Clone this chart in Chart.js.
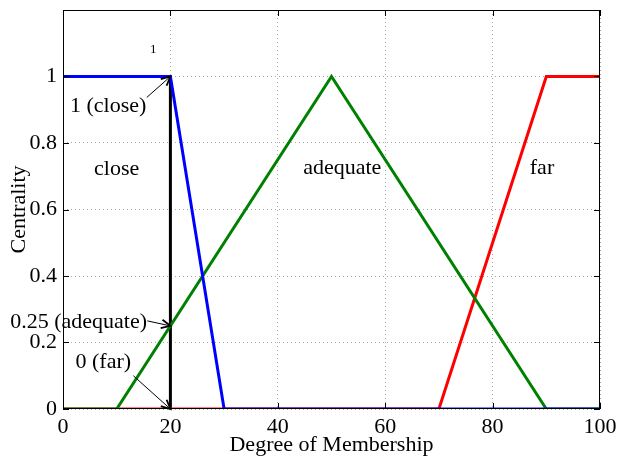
<!DOCTYPE html>
<html>
<head>
<meta charset="utf-8">
<script src="https://cdn.jsdelivr.net/npm/chart.js@4"></script>
<style>
  html, body { margin: 0; padding: 0; background: #fff; }
  #wrap { width: 617px; height: 458px; }
</style>
</head>
<body>
<div id="wrap"><canvas id="chart"></canvas></div>
<script>
// membership functions, x = distance, y = centrality
const closeX = [0, 20, 30, 100];
const closeY = [1, 1, 0, 0];
const adequateX = [0, 10, 50, 90, 100];
const adequateY = [0, 0, 1, 0, 0];
const farX = [0, 70, 90, 100];
const farY = [0, 0, 1, 1];
const cutX = [20, 20];
const cutY = [0, 1];

const xTicks = [0, 20, 40, 60, 80, 100];
const yTicks = [0, 0.2, 0.4, 0.6, 0.8, 1, 1.2];
const yTickLabels = ['0', '0.2', '0.4', '0.6', '0.8', '1', ''];

// text labels placed in data coordinates
const labels = [
    { text: '1', x: 16.8, y: 1.08, size: 13 },
    { text: '1 (close)', x: 8.4, y: 0.91, size: 22 },
    { text: 'close', x: 10, y: 0.72, size: 22 },
    { text: 'adequate', x: 52, y: 0.725, size: 22 },
    { text: 'far', x: 89.2, y: 0.725, size: 22 },
    { text: '0.25 (adequate)', x: 2.9, y: 0.26, size: 22 },
    { text: '0 (far)', x: 7.5, y: 0.14, size: 22 }
];
// arrows: from (x0,y0) to (x1,y1) in data coordinates
const arrows = [
    { x0: 15.6, y0: 0.937, x1: 20, y1: 1 },
    { x0: 15.7, y0: 0.265, x1: 20, y1: 0.25 },
    { x0: 13.1, y0: 0.10, x1: 20, y1: 0 }
];

const FONT = "'Liberation Serif', 'Times New Roman', serif";

function pts(xs, ys) {
    return xs.map((x, i) => ({ x: x, y: ys[i] }));
}

const annotate = {
    id: 'annotate',
    afterDatasetsDraw(chart) {
        const ctx = chart.ctx;
        const xs = chart.scales.x, ys = chart.scales.y;
        const a = chart.chartArea;
        ctx.save();
        // frame and inward ticks
        ctx.strokeStyle = '#000';
        ctx.lineWidth = 1;
        ctx.strokeRect(a.left + 0.5, a.top + 0.5, a.right - a.left - 1, a.bottom - a.top - 1);
        ctx.beginPath();
        xTicks.forEach(v => {
            const px = Math.round(xs.getPixelForValue(v)) + 0.5;
            ctx.moveTo(px, a.bottom); ctx.lineTo(px, a.bottom - 6);
            ctx.moveTo(px, a.top); ctx.lineTo(px, a.top + 6);
        });
        yTicks.forEach(v => {
            const py = Math.round(ys.getPixelForValue(v)) + 0.5;
            ctx.moveTo(a.left, py); ctx.lineTo(a.left + 6, py);
            ctx.moveTo(a.right, py); ctx.lineTo(a.right - 6, py);
        });
        ctx.stroke();

        // text
        ctx.fillStyle = '#000';
        ctx.textAlign = 'center';
        ctx.textBaseline = 'middle';
        labels.forEach(l => {
            ctx.font = l.size + 'px ' + FONT;
            ctx.fillText(l.text, xs.getPixelForValue(l.x), ys.getPixelForValue(l.y));
        });

        // arrows
        arrows.forEach(r => {
            const x0 = xs.getPixelForValue(r.x0), y0 = ys.getPixelForValue(r.y0);
            const x1 = xs.getPixelForValue(r.x1), y1 = ys.getPixelForValue(r.y1);
            const ang = Math.atan2(y1 - y0, x1 - x0);
            ctx.lineWidth = 1;
            ctx.beginPath();
            ctx.moveTo(x0, y0);
            ctx.lineTo(x1, y1);
            ctx.stroke();
            ctx.lineWidth = 1.8;
            ctx.beginPath();
            ctx.moveTo(x1 - 10 * Math.cos(ang - 0.45), y1 - 10 * Math.sin(ang - 0.45));
            ctx.lineTo(x1, y1);
            ctx.lineTo(x1 - 10 * Math.cos(ang + 0.45), y1 - 10 * Math.sin(ang + 0.45));
            ctx.stroke();
        });
        ctx.restore();
    }
};

const line = (data, color, w) => ({
    data: data,
    borderColor: color,
    borderWidth: w,
    pointRadius: 0,
    tension: 0,
    fill: false
});

new Chart(document.getElementById('chart'), {
    type: 'line',
    data: {
        datasets: [
            line(pts(closeX, closeY), '#0000ff', 3),
            line(pts(adequateX, adequateY), '#008000', 3),
            line(pts(farX, farY), '#ff0000', 3),
            line(pts(cutX, cutY), '#000000', 3)
        ]
    },
    options: {
        responsive: true,
        maintainAspectRatio: false,
        animation: false,
        layout: { padding: { left: 0, right: 17, top: 10, bottom: 0 } },
        plugins: { legend: { display: false }, tooltip: { enabled: false } },
        scales: {
            x: {
                type: 'linear',
                min: 0, max: 100,
                afterBuildTicks: s => { s.ticks = xTicks.map(v => ({ value: v })); },
                afterFit: s => { s.height = 49; s.paddingLeft = 0; s.paddingRight = 0; },
                grid: { color: '#aaa', borderDash: [1, 3], drawTicks: false },
                border: { display: false, dash: [1, 3] },
                ticks: { color: '#000', font: { family: FONT, size: 22 }, padding: 5, maxRotation: 0 },
                title: { display: true, text: 'Degree of Membership', color: '#000', font: { family: FONT, size: 22 }, padding: 0 }
            },
            y: {
                min: 0, max: 1.2,
                afterBuildTicks: s => { s.ticks = yTicks.map(v => ({ value: v })); },
                afterFit: s => { s.width = 63; s.paddingTop = 0; s.paddingBottom = 0; },
                grid: { color: '#aaa', borderDash: [1, 3], drawTicks: false },
                border: { display: false, dash: [1, 3] },
                ticks: {
                    color: '#000', font: { family: FONT, size: 22 }, padding: 6,
                    callback: (v, i) => yTickLabels[i]
                },
                title: { display: true, text: 'Centrality', color: '#000', font: { family: FONT, size: 22 }, padding: { top: 6, bottom: 0 } }
            }
        }
    },
    plugins: [annotate]
});
</script>
</body>
</html>
